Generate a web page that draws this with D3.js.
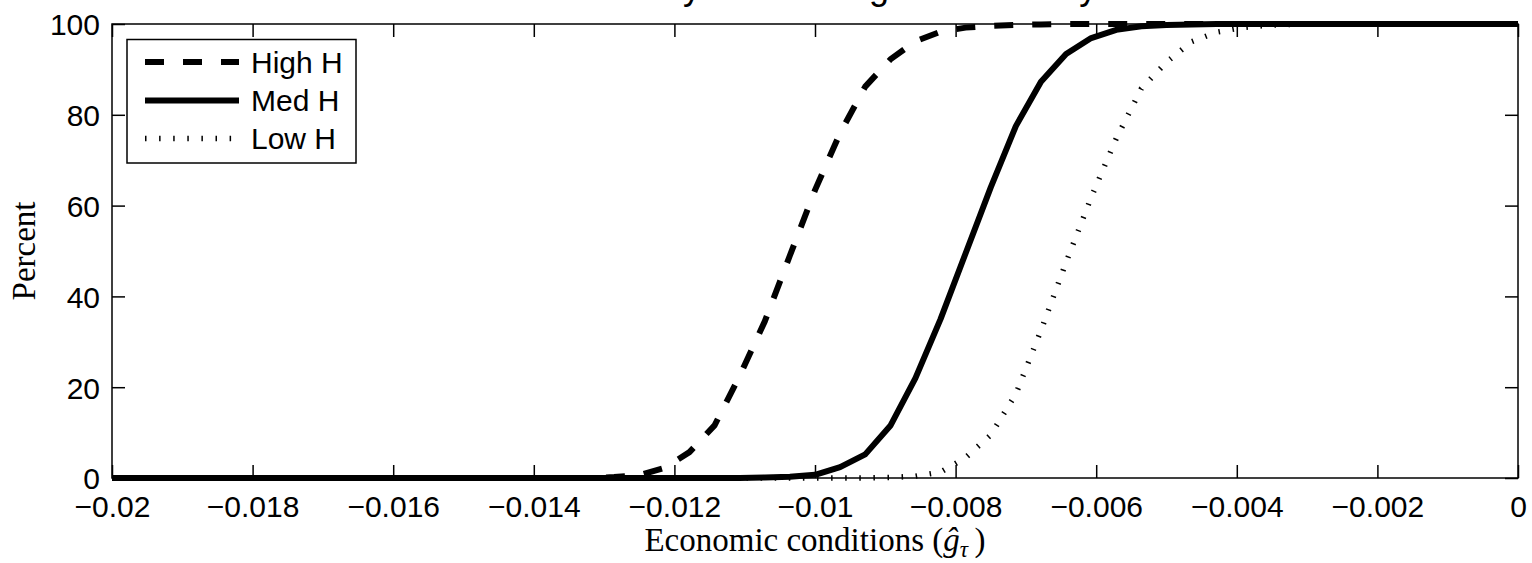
<!DOCTYPE html>
<html>
<head>
<meta charset="utf-8">
<script src="https://cdn.jsdelivr.net/npm/d3@7/dist/d3.min.js"></script>
<style>
html, body { margin: 0; padding: 0; background: #fff; }
svg { display: block; }
</style>
</head>
<body>
<svg id="chart" width="1532" height="563"></svg>
<script>
// ---------------- data ----------------
const xGrid = [
  -0.02, -0.0196429, -0.0192857, -0.0189286, -0.0185714, -0.0182143, -0.0178571, -0.0175,
  -0.0171429, -0.0167857, -0.0164286, -0.0160714, -0.0157143, -0.0153571, -0.015, -0.0146429,
  -0.0142857, -0.0139286, -0.0135714, -0.0132143, -0.0128571, -0.0125, -0.0121429, -0.0117857,
  -0.0114286, -0.0110714, -0.0107143, -0.0103571, -0.01, -0.0096429, -0.0092857, -0.0089286,
  -0.0085714, -0.0082143, -0.0078571, -0.0075, -0.0071429, -0.0067857, -0.0064286, -0.0060714,
  -0.0057143, -0.0053571, -0.005, -0.0046429, -0.0042857, -0.0039286, -0.0035714, -0.0032143,
  -0.0028571, -0.0025, -0.0021429, -0.0017857, -0.0014286, -0.0010714, -0.0007143, -0.0003571, 0
];
const highH = [
  0, 0, 0, 0, 0, 0, 0, 0, 0, 0, 0, 0, 0, 0, 0, 0, 0, 0, 0, 0,
  0.2, 0.6, 2.2, 5.7, 11.6, 22.5, 34.5, 49, 63.4, 76, 86.2, 92.2, 96.2, 98.3, 99.2, 99.6, 99.8, 99.9,
  100, 100, 100, 100, 100, 100, 100, 100, 100, 100, 100, 100, 100, 100, 100, 100, 100, 100, 100
];
const medH = [
  0, 0, 0, 0, 0, 0, 0, 0, 0, 0, 0, 0, 0, 0, 0, 0, 0, 0, 0, 0, 0, 0, 0, 0, 0, 0,
  0.1, 0.3, 0.7, 2.4, 5.2, 11.5, 22, 35, 49.5, 64, 77.5, 87.3, 93.4, 96.9, 98.7, 99.5, 99.8, 99.9,
  100, 100, 100, 100, 100, 100, 100, 100, 100, 100, 100, 100, 100
];
const lowH = [
  0, 0, 0, 0, 0, 0, 0, 0, 0, 0, 0, 0, 0, 0, 0, 0, 0, 0, 0, 0, 0, 0, 0, 0, 0, 0, 0, 0, 0, 0, 0,
  0.1, 0.4, 1.3, 4.5, 9.5, 18.5, 32.5, 47.5, 61.8, 74.8, 85.8, 91.6, 96.1, 98.2, 99.2, 99.7, 99.9,
  100, 100, 100, 100, 100, 100, 100, 100, 100
];
const seriesNames = ["High H", "Med H", "Low H"];
const xTickValues = [-0.02, -0.018, -0.016, -0.014, -0.012, -0.01, -0.008, -0.006, -0.004, -0.002, 0];
const xTickLabels = ["\u22120.02", "\u22120.018", "\u22120.016", "\u22120.014", "\u22120.012", "\u22120.01",
                     "\u22120.008", "\u22120.006", "\u22120.004", "\u22120.002", "0"];
const yTickValues = [0, 20, 40, 60, 80, 100];
const yTickLabels = ["0", "20", "40", "60", "80", "100"];
const titleText = "Probability of retaining the currency";
const yLabelText = "Percent";

// ---------------- layout ----------------
const L = 112, R = 1518, T = 24, B = 478;
const sansFont = "'Liberation Sans', Arial, Helvetica, sans-serif";
const serifFont = "'Liberation Serif', 'Times New Roman', serif";
const tickFs = 30;

const svg = d3.select("#chart");
const x = d3.scaleLinear().domain([-0.02, 0]).range([L, R]);
const y = d3.scaleLinear().domain([0, 100]).range([B, T]);

const styles = [
  { dash: "19,19", width: 6 },
  { dash: null, width: 6 },
  { dash: "1.5,12.6", width: 5.5 }
];
const data = [highH, medH, lowH];

// axes (ticks inside, on all four sides)
const fmtX = (d, i) => xTickLabels[i];
const fmtY = (d, i) => yTickLabels[i];
const axB = svg.append("g").attr("transform", `translate(0,${B})`)
  .call(d3.axisBottom(x).tickValues(xTickValues).tickSize(-13).tickPadding(15).tickFormat(fmtX));
const axT = svg.append("g").attr("transform", `translate(0,${T})`)
  .call(d3.axisTop(x).tickValues(xTickValues).tickSize(-13).tickFormat(() => ""));
const axLf = svg.append("g").attr("transform", `translate(${L},0)`)
  .call(d3.axisLeft(y).tickValues(yTickValues).tickSize(-13).tickPadding(12).tickFormat(fmtY));
const axRt = svg.append("g").attr("transform", `translate(${R},0)`)
  .call(d3.axisRight(y).tickValues(yTickValues).tickSize(-13).tickFormat(() => ""));
[axB, axT, axLf, axRt].forEach(g => {
  g.select(".domain").remove();
  g.selectAll(".tick line").attr("stroke", "#000").attr("stroke-width", 1.5);
  g.selectAll(".tick text").attr("fill", "#000").attr("font-family", sansFont).attr("font-size", tickFs);
});
axB.selectAll(".tick text").attr("dy", null).attr("y", 39);
axLf.selectAll(".tick text").attr("dy", "0.36em").attr("x", -12);

// frame
svg.append("rect").attr("x", L).attr("y", T).attr("width", R - L).attr("height", B - T)
  .attr("fill", "none").attr("stroke", "#000").attr("stroke-width", 1.5);

// lines
const line = d3.line().x((d, i) => x(xGrid[i])).y(d => y(d));
data.forEach((vals, s) => {
  svg.append("path").datum(vals)
    .attr("d", line)
    .attr("fill", "none").attr("stroke", "#000")
    .attr("stroke-width", styles[s].width)
    .attr("stroke-linejoin", "round")
    .attr("stroke-dasharray", styles[s].dash);
});

// title (mostly cut off at top)
svg.append("text").attr("x", (L + R) / 2).attr("y", -1)
  .attr("text-anchor", "middle").attr("font-family", sansFont).attr("font-size", 36)
  .attr("fill", "#000").text(titleText);

// y label
svg.append("text")
  .attr("transform", `translate(35,${(T + B) / 2}) rotate(-90)`)
  .attr("text-anchor", "middle").attr("font-family", serifFont).attr("font-size", 33)
  .attr("fill", "#000").text(yLabelText);

// x label with math
const xl = svg.append("text").attr("x", (L + R) / 2).attr("y", 551)
  .attr("text-anchor", "middle").attr("font-family", serifFont).attr("font-size", 33).attr("fill", "#000");
xl.append("tspan").text("Economic conditions (");
xl.append("tspan").attr("font-style", "italic").text("\u011D");
xl.append("tspan").attr("font-style", "italic").attr("font-size", 23).attr("dy", 6).text("\u03C4");
xl.append("tspan").attr("dy", -6).text("\u2009)");

// legend
const lg = svg.append("g");
lg.append("rect").attr("x", 127).attr("y", 39.5).attr("width", 229).attr("height", 123.5)
  .attr("fill", "#fff").attr("stroke", "#000").attr("stroke-width", 1.5);
const rowY = [62, 100.5, 138.5];
seriesNames.forEach((name, s) => {
  lg.append("line").attr("x1", 145).attr("x2", 239).attr("y1", rowY[s]).attr("y2", rowY[s])
    .attr("stroke", "#000").attr("stroke-width", styles[s].width)
    .attr("stroke-dasharray", styles[s].dash);
  lg.append("text").attr("x", 251).attr("y", rowY[s]).attr("dy", "0.36em")
    .attr("font-family", sansFont).attr("font-size", tickFs).attr("fill", "#000").text(name);
});
</script>
</body>
</html>
